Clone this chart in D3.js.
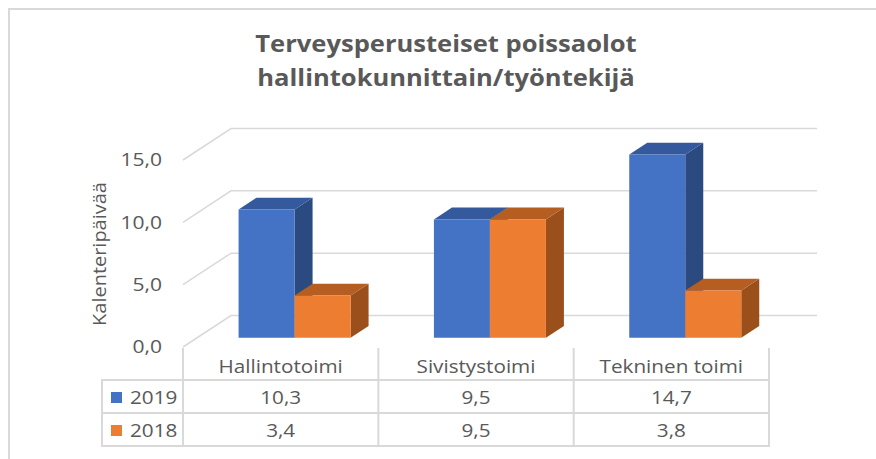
<!DOCTYPE html>
<html>
<head>
<meta charset="utf-8">
<script src="https://cdn.jsdelivr.net/npm/d3@7"></script>
<style>
  body { margin: 0; background: #fff; }
  text { font-family: "Open Sans", sans-serif; fill: #595959; }
</style>
</head>
<body>
<div id="chart"></div>
<script>
// chart values
var categories = ["Hallintotoimi", "Sivistystoimi", "Tekninen toimi"];
var series = ["2019", "2018"];
var values2019 = [10.3, 9.5, 14.7];
var values2018 = [3.4, 9.5, 3.8];
var yTicks = [0, 5, 10, 15];
var titleLines = ["Terveysperusteiset poissaolot", "hallintokunnittain/työntekijä"];
var yTitle = "Kalenteripäivää";

var width = 876, height = 459;

// finnish number format, comma as decimal
var fi = d3.formatLocale({decimal: ",", thousands: "\u00a0", grouping: [3], currency: ["", " €"]});
var fmt = fi.format(".1f");

var colors = {
	"2019": {front: "#4472c4", top: "#34599c", side: "#2b4a80"},
	"2018": {front: "#ed7d31", top: "#b65d22", side: "#9b501c"}
};

// 3d offsets (depth of the floor) and where bars sit in depth
var DX = 48, DY = 31.5;
var z0 = 0.29, z1 = 0.665;
var barW = 56;

// the original text is a bit wider than Open Sans, stretch it sideways
var SX = 1.15;

var svg = d3.select("#chart").append("svg")
	.attr("width", width)
	.attr("height", height);

// put a text at (px,py) with horizontal stretch
function addText(parent, px, py, str, size, sx) {
	return parent.append("text")
		.attr("transform", "translate(" + px + "," + py + ") scale(" + sx + ",1)")
		.style("font-size", size + "px")
		.text(str);
}

// outer chart border (only top / left in view)
svg.append("rect")
	.attr("x", 9).attr("y", 9)
	.attr("width", 900).attr("height", 500)
	.attr("fill", "none")
	.attr("stroke", "#d9d9d9")
	.attr("stroke-width", 2);

var x = d3.scaleBand()
	.domain(categories)
	.range([183, 769]);

var y = d3.scaleLinear()
	.domain([0, 15])
	.range([347, 160]);

function proj(px, v, z) {
	return [px + z * DX, y(v) - z * DY];
}

// title
titleLines.forEach(function(t, i) {
	addText(svg, 446, 52 + i * 34, t, 24, 1.065)
		.attr("text-anchor", "middle")
		.style("font-weight", "bold");
});

// walls: gridlines on side wall + back wall
var grid = svg.append("g").attr("class", "grid");
yTicks.forEach(function(t) {
	var pts = [proj(183, t, 0), proj(183, t, 1), proj(769, t, 1)];
	grid.append("path")
		.attr("d", d3.line()(pts))
		.attr("fill", "none")
		.attr("stroke", "#d9d9d9")
		.attr("stroke-width", 1.5);
});

// y axis labels
svg.append("g")
	.attr("transform", "translate(183,0)")
	.call(d3.axisLeft(y).tickValues(yTicks).tickFormat(fmt).tickSize(0).tickPadding(21))
	.call(function(g) { g.select(".domain").remove(); })
	.selectAll("text")
	.attr("x", -21 / 1.17)
	.attr("transform", "scale(1.17,1)")
	.style("font-size", "18px")
	.attr("fill", "#595959");

svg.append("text")
	.attr("transform", "translate(106,254) rotate(-90) scale(1.11,1)")
	.attr("text-anchor", "middle")
	.style("font-size", "18px")
	.text(yTitle);

// bars
var bars = [];
categories.forEach(function(c, i) {
	var cx = x(c) + x.bandwidth() / 2;
	bars.push({s: "2019", v: values2019[i], x0: cx - barW, x1: cx});
	bars.push({s: "2018", v: values2018[i], x0: cx, x1: cx + barW});
});

var line = d3.line();
var bg = svg.append("g").attr("class", "bars");
bars.forEach(function(b) {
	var col = colors[b.s];
	var front = [proj(b.x0, 0, z0), proj(b.x1, 0, z0), proj(b.x1, b.v, z0), proj(b.x0, b.v, z0)];
	var top = [proj(b.x0, b.v, z0), proj(b.x1, b.v, z0), proj(b.x1, b.v, z1), proj(b.x0, b.v, z1)];
	var side = [proj(b.x1, 0, z0), proj(b.x1, 0, z1), proj(b.x1, b.v, z1), proj(b.x1, b.v, z0)];
	bg.append("path").attr("d", line(side) + "Z").attr("fill", col.side);
	bg.append("path").attr("d", line(top) + "Z").attr("fill", col.top);
	bg.append("path").attr("d", line(front) + "Z").attr("fill", col.front);
});

// data table
var rowTop = 380, rowH = 33;
var tbl = svg.append("g").attr("class", "table");
var lineColor = "#d9d9d9";

// vertical lines of category columns
var colEdges = categories.map(function(c) { return x(c); }).concat([x.range()[1]]);
colEdges.forEach(function(cx) {
	tbl.append("line")
		.attr("x1", cx).attr("x2", cx)
		.attr("y1", 348).attr("y2", rowTop + 2 * rowH)
		.attr("stroke", lineColor).attr("stroke-width", 2);
});
// legend column left edge
tbl.append("line")
	.attr("x1", 102).attr("x2", 102)
	.attr("y1", rowTop).attr("y2", rowTop + 2 * rowH)
	.attr("stroke", lineColor).attr("stroke-width", 2);
// horizontal lines
[0, 1, 2].forEach(function(r) {
	tbl.append("line")
		.attr("x1", 101).attr("x2", 770)
		.attr("y1", rowTop + r * rowH).attr("y2", rowTop + r * rowH)
		.attr("stroke", lineColor).attr("stroke-width", 2);
});

// header labels
categories.forEach(function(c) {
	addText(tbl, x(c) + x.bandwidth() / 2, 373, c, 18, SX)
		.attr("text-anchor", "middle");
});

var rows = [values2019, values2018];
rows.forEach(function(vals, r) {
	var yy = rowTop + r * rowH + 24;
	tbl.append("rect")
		.attr("x", 111).attr("y", yy - 12)
		.attr("width", 11).attr("height", 11)
		.attr("fill", colors[series[r]].front);
	addText(tbl, 130, yy, series[r], 18, SX);
	vals.forEach(function(d, i) {
		addText(tbl, x(categories[i]) + x.bandwidth() / 2, yy, fmt(d), 18, SX)
			.attr("text-anchor", "middle");
	});
});
</script>
</body>
</html>
